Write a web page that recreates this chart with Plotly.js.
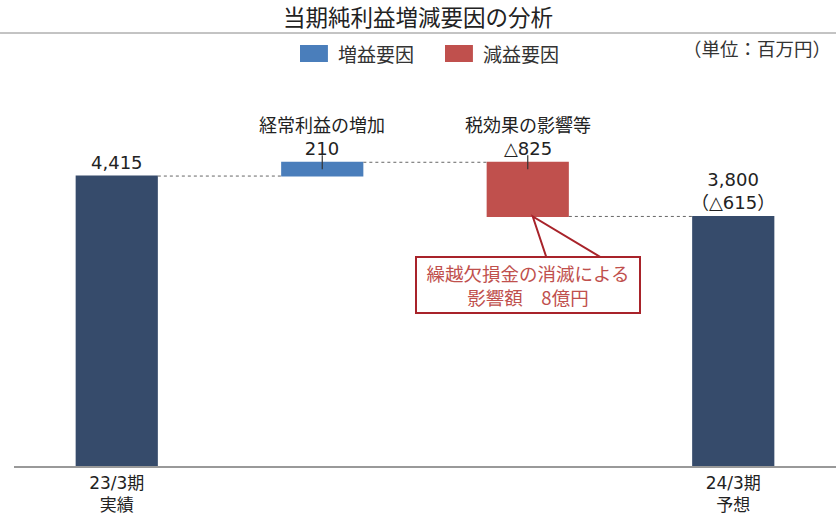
<!DOCTYPE html>
<html>
<head>
<meta charset="utf-8">
<script src="https://cdn.plot.ly/plotly-3.0.1.min.js"></script>
<style>html,body{margin:0;padding:0;background:#fff;}#chart{width:836px;height:514px;}</style>
</head>
<body>
<div id="chart"></div>
<script>
// ---- data ----
const categoryIds = ['c1', 'c2', 'c3', 'c4'];
const tickLabels = ['23/3期<br>実績', '', '', '24/3期<br>予想'];
const measures = ['absolute', 'relative', 'relative', 'total'];
const values = [4415, 210, -825, 0];
const barLabels = ['4,415', '経常利益の増加<br>210', '税効果の影響等<br>△825', '3,800<br>（△615）'];
const legendNames = ['増益要因', '減益要因'];
const chartTitle = '当期純利益増減要因の分析';
const unitText = '（単位：百万円）';
const calloutText = '繰越欠損金の消滅による<br>影響額　8億円';

// ---- styles ----
const NAVY = '#364b6b', BLUE = '#4a7ebb', RED = '#c0504d', DARKRED = '#a8232a';
const FONT = 'DejaVu Sans, "Noto Sans CJK JP", sans-serif';
const CJK = '"Noto Sans CJK JP", sans-serif';

// cumulative bar extents for label placement
const ext = [];
let run = 0;
for (let i = 0; i < values.length; i++) {
  const start = measures[i] === 'relative' ? run : 0;
  if (measures[i] === 'absolute') run = values[i];
  else if (measures[i] === 'relative') run += values[i];
  const end = run;
  ext.push({ top: Math.max(start, end), bottom: Math.min(start, end) });
}

const waterfall = {
  type: 'waterfall',
  x: categoryIds,
  y: values,
  measure: measures,
  width: 0.4,
  showlegend: false,
  increasing: { marker: { color: BLUE } },
  decreasing: { marker: { color: RED } },
  totals: { marker: { color: NAVY } },
  connector: { mode: 'between', line: { color: '#666', width: 1, dash: 'dot' } },
  textposition: 'none',
  hoverinfo: 'skip'
};

// small tick marks at top of change bars
const tickIdx = [1, 2];
const tickMarks = {
  type: 'scatter', mode: 'markers',
  x: tickIdx.map(i => categoryIds[i]),
  y: tickIdx.map(i => ext[i].top),
  marker: { symbol: 'line-ns', size: 10, line: { width: 1.2, color: '#333' } },
  showlegend: false, hoverinfo: 'skip'
};

const annotations = barLabels.map((t, i) => ({
  x: categoryIds[i], y: ext[i].top, xref: 'x', yref: 'y',
  text: t, showarrow: false, yanchor: 'bottom', yshift: 1,
  font: { family: FONT, size: 18, color: '#222' }
}));

// unit note
annotations.push({
  xref: 'paper', yref: 'paper', x: 0.9964, y: 1.0556, xanchor: 'right', yanchor: 'middle',
  text: unitText, showarrow: false, font: { family: CJK, size: 18.5, color: '#333' }
});

// legend labels
const legendColors = [BLUE, RED];
const legendX = [0.3479, 0.5243];
legendNames.forEach((n, i) => annotations.push({
  xref: 'paper', yref: 'paper', x: legendX[i] + 0.044, y: 1.0417, xanchor: 'left', yanchor: 'middle',
  text: n, showarrow: false, font: { family: CJK, size: 19, color: '#333' }
}));

// callout box
annotations.push({
  x: categoryIds[2], y: ext[2].bottom, xref: 'x', yref: 'y',
  text: calloutText, showarrow: false, yanchor: 'top', yshift: -40,
  width: 216, height: 48, align: 'center',
  bordercolor: DARKRED, borderwidth: 2, borderpad: 3, bgcolor: '#fff',
  font: { family: CJK, size: 18.5, color: '#c0504d' }
});

const shapes = [
  { type: 'line', xref: 'paper', yref: 'paper', x0: -0.017, x1: 1.0, y0: 1.0934, y1: 1.0934,
    line: { color: '#888', width: 1 } },
  // callout pointer wedge
  { type: 'path', xref: 'x', yref: 'y', xsizemode: 'pixel', ysizemode: 'pixel',
    xanchor: 2, yanchor: ext[2].bottom, path: 'M5,0 L19,-42 L75,-42 Z',
    fillcolor: '#fff', line: { color: DARKRED, width: 2 }, layer: 'above' }
];
legendColors.forEach((c, i) => shapes.push({
  type: 'rect', xref: 'paper', yref: 'paper', x0: legendX[i], x1: legendX[i] + 0.034,
  y0: 1.0202, y1: 1.0631, fillcolor: c, line: { width: 0 }
}));

const layout = {
  width: 836, height: 514,
  margin: { l: 14, r: 0, t: 70, b: 48 },
  paper_bgcolor: '#fff', plot_bgcolor: '#fff',
  font: { family: FONT, color: '#222' },
  title: { text: chartTitle, x: 0.5, xanchor: 'center', y: 0.965, yanchor: 'middle',
           font: { family: CJK, size: 22.5, color: '#222' } },
  showlegend: false,
  xaxis: {
    type: 'category', categoryarray: categoryIds, tickvals: categoryIds, ticktext: tickLabels,
    range: [-0.5, 3.5], showline: true, linecolor: '#999', linewidth: 1.5, ticks: '',
    ticklabelstandoff: 1,
    showgrid: false, zeroline: false, tickfont: { family: FONT, size: 17, color: '#222' }, fixedrange: true
  },
  yaxis: { range: [0, 6030], visible: false, showgrid: false, zeroline: false, fixedrange: true },
  shapes: shapes,
  annotations: annotations
};

Plotly.newPlot('chart', [waterfall, tickMarks], layout, { displayModeBar: false, staticPlot: true });
</script>
</body>
</html>
